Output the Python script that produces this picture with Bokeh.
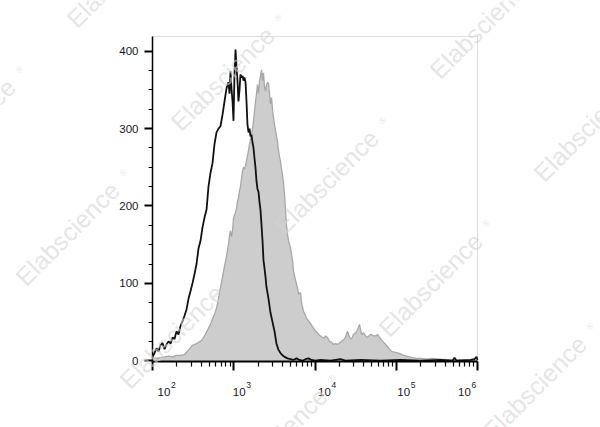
import math
from bokeh.plotting import figure
from bokeh.models import Range1d, SingleIntervalTicker, FixedTicker, Label, BoxAnnotation
from bokeh.embed import file_html
from bokeh.resources import INLINE

# ---- data (log10 of fluorescence intensity, event counts) ----
black_log10 = [2.000, 2.025, 2.049, 2.074, 2.098, 2.123, 2.148, 2.172, 2.197, 2.222,
               2.246, 2.271, 2.295, 2.320, 2.345, 2.369, 2.394, 2.418, 2.443, 2.468,
               2.492, 2.517, 2.542, 2.566, 2.591, 2.615, 2.640, 2.665, 2.689, 2.714,
               2.738, 2.763, 2.788, 2.812, 2.837, 2.862, 2.886, 2.911, 2.935, 2.948,
               2.960, 2.972, 2.985, 2.997, 3.009, 3.022, 3.034, 3.046, 3.058, 3.071,
               3.083, 3.095, 3.108, 3.120, 3.132, 3.145, 3.157, 3.169, 3.182, 3.194,
               3.206, 3.218, 3.231, 3.243, 3.255, 3.268, 3.280, 3.292, 3.305, 3.317,
               3.329, 3.342, 3.354, 3.366, 3.378, 3.391, 3.403, 3.415, 3.428, 3.452,
               3.477, 3.502, 3.526, 3.551, 3.575, 3.600, 3.625, 3.662, 3.698, 3.735,
               3.772, 3.809, 3.846, 3.883, 3.920, 3.957, 4.006, 4.068, 4.191, 4.314,
               4.375, 4.560, 4.806, 5.052, 5.298, 5.545, 5.692, 5.717, 5.742, 5.914,
               5.963, 5.988, 6.000]
black_count = [5, 10, 16, 12, 20, 23, 15, 21, 25, 22,
               30, 28, 38, 34, 45, 51, 58, 66, 80, 90,
               100, 112, 125, 145, 155, 172, 185, 195, 225, 243,
               255, 280, 295, 300, 303, 318, 335, 352, 360, 345,
               374, 352, 335, 310, 370, 402, 380, 362, 335, 350,
               370, 366, 368, 362, 366, 360, 335, 305, 295, 300,
               290, 292, 282, 275, 262, 249, 232, 222, 218, 205,
               195, 175, 155, 130, 120, 108, 95, 88, 80, 62,
               50, 38, 22, 14, 10, 7, 5, 3, 2, 1,
               3, 1, 0, 2, 3, 1, 0, 1, 0, 2,
               0, 1, 0, 1, 0, 1, 0, 4, 0, 1,
               2, 5, 1]

gray_log10 = [2.000, 2.049, 2.098, 2.148, 2.197, 2.246, 2.295, 2.345, 2.394, 2.418,
              2.443, 2.468, 2.492, 2.517, 2.542, 2.566, 2.591, 2.615, 2.640, 2.665,
              2.689, 2.714, 2.738, 2.763, 2.788, 2.812, 2.837, 2.862, 2.886, 2.911,
              2.935, 2.948, 2.960, 2.972, 2.985, 2.997, 3.009, 3.022, 3.034, 3.046,
              3.058, 3.071, 3.083, 3.095, 3.108, 3.120, 3.132, 3.145, 3.157, 3.169,
              3.182, 3.194, 3.206, 3.218, 3.231, 3.243, 3.255, 3.268, 3.280, 3.292,
              3.305, 3.317, 3.329, 3.342, 3.354, 3.366, 3.378, 3.391, 3.403, 3.415,
              3.428, 3.440, 3.452, 3.465, 3.477, 3.489, 3.502, 3.514, 3.526, 3.538,
              3.551, 3.563, 3.575, 3.588, 3.600, 3.612, 3.625, 3.637, 3.649, 3.662,
              3.674, 3.698, 3.723, 3.735, 3.760, 3.785, 3.797, 3.822, 3.834, 3.858,
              3.883, 3.908, 3.932, 3.957, 3.982, 4.006, 4.031, 4.055, 4.080, 4.105,
              4.129, 4.154, 4.178, 4.203, 4.228, 4.252, 4.277, 4.302, 4.326, 4.351,
              4.375, 4.400, 4.425, 4.449, 4.474, 4.498, 4.523, 4.548, 4.572, 4.597,
              4.622, 4.646, 4.671, 4.695, 4.720, 4.745, 4.769, 4.794, 4.818, 4.843,
              4.868, 4.892, 4.917, 4.942, 4.978, 5.015, 5.052, 5.089, 5.126, 5.163,
              5.200, 5.249, 5.298, 5.372, 5.446, 5.545, 5.668, 5.791, 5.914, 6.000]
gray_count = [4, 3, 4, 5, 6, 5, 7, 7, 8, 11,
              14, 17, 20, 21, 22, 24, 25, 28, 32, 37,
              42, 47, 54, 60, 68, 80, 95, 108, 122, 135,
              150, 162, 168, 160, 168, 184, 188, 192, 197, 206,
              210, 220, 225, 235, 245, 250, 248, 252, 258, 265,
              272, 280, 285, 292, 300, 310, 322, 335, 345, 357,
              345, 362, 368, 376, 362, 372, 355, 348, 356, 360,
              358, 345, 332, 340, 325, 314, 305, 298, 290, 284,
              272, 264, 258, 248, 240, 230, 215, 195, 175, 163,
              155, 146, 130, 116, 104, 94, 86, 88, 75, 64,
              58, 53, 50, 46, 42, 38, 36, 33, 31, 29,
              32, 30, 25, 24, 21, 22, 21, 23, 25, 27,
              30, 38, 30, 28, 34, 36, 40, 47, 34, 36,
              32, 30, 33, 34, 32, 32, 34, 30, 27, 24,
              21, 18, 15, 12, 11, 10, 9, 7, 6, 5,
              4, 3, 3, 2, 3, 2, 1, 1, 0, 0]

y_ticks = [0, 100, 200, 300, 400]
x_decades = [2, 3, 4, 5, 6]
x_tick_base = "10"
x_tick_exponents = ["2", "3", "4", "5", "6"]
watermark_text = "Elabscience"
watermark_mark = "\u00ae"

black_x = [10 ** e for e in black_log10]
gray_x = [10 ** e for e in gray_log10]

# ---- layout: the frame covers the whole canvas, the plot box sits inside it ----
W, H = 600, 427
BOX_L, BOX_R, BOX_T, BOX_B = 152, 477, 36, 361      # pixel edges of the plot box
X_LO, X_HI = 100, 1e6
Y_LO, Y_HI = -1, 419
dec_px = (BOX_R - BOX_L) / (math.log10(X_HI) - math.log10(X_LO))
k = (BOX_B - BOX_T) / (Y_HI - Y_LO)
x_range = Range1d(10 ** (math.log10(X_LO) - BOX_L / dec_px),
                  10 ** (math.log10(X_HI) + (W - BOX_R) / dec_px))
y_range = Range1d(Y_LO - (H - BOX_B) / k, Y_HI + BOX_T / k)

p = figure(width=W, height=H, x_axis_type="log", x_range=x_range, y_range=y_range,
           output_backend="svg", toolbar_location=None, min_border=0)
p.grid.visible = False
p.outline_line_color = None
p.background_fill_color = "white"
p.border_fill_color = "white"

# plot box border (top & right visible in grey)
p.add_layout(BoxAnnotation(left=X_LO, right=X_HI, bottom=Y_LO, top=Y_HI,
                           fill_alpha=0, line_color="#8f8f8f", line_width=1,
                           level="underlay"))

# gray filled histogram
p.varea(x=gray_x, y1=0, y2=gray_count, fill_color="#cdcdcd")
p.line(gray_x, gray_count, line_color="#a8a8a8", line_width=1.3)
# black histogram
p.line(black_x, black_count, line_color="#111111", line_width=1.8)

# y axis
yax = p.yaxis[0]
yax.fixed_location = X_LO
yax.bounds = (Y_LO, Y_HI)
yax.ticker = SingleIntervalTicker(interval=100, num_minor_ticks=4)
yax.axis_line_color = "black"
yax.axis_line_width = 1.5
yax.major_tick_in = 0
yax.major_tick_out = 8
yax.major_tick_line_width = 2
yax.major_tick_line_color = "black"
yax.minor_tick_in = 0
yax.minor_tick_out = 4
yax.minor_tick_line_width = 1
yax.minor_tick_line_color = "black"
yax.major_label_text_font = "Liberation Sans"
yax.major_label_text_font_size = "11.5px"
yax.major_label_text_color = "#1a1a1a"
yax.major_label_standoff = 6

# x axis (ticks; labels placed as text below)
major = [10 ** d for d in x_decades]
minor = [m * 10 ** d for d in x_decades[:-1] for m in range(2, 10)]
xax = p.xaxis[0]
xax.fixed_location = Y_LO
xax.bounds = (X_LO, X_HI)
xax.ticker = FixedTicker(ticks=major, minor_ticks=minor)
xax.major_label_overrides = {v: "" for v in major}
xax.axis_line_color = "black"
xax.axis_line_width = 2
xax.major_tick_in = 0
xax.major_tick_out = 9
xax.major_tick_line_width = 2
xax.major_tick_line_color = "black"
xax.minor_tick_in = 0
xax.minor_tick_out = 5
xax.minor_tick_line_width = 1.2
xax.minor_tick_line_color = "black"

# x tick labels "10" with a raised exponent
label_offsets = [5, -1, 3, 1, -19.5]
for d, ex, off in zip(x_decades, x_tick_exponents, label_offsets):
    p.add_layout(Label(x=10 ** d, x_units="data", y=H - 391, y_units="screen",
                       text=x_tick_base, x_offset=off, text_align="left",
                       text_baseline="alphabetic", text_font="Liberation Sans",
                       text_font_size="11.5px", text_color="#1a1a1a"))
    p.add_layout(Label(x=10 ** d, x_units="data", y=H - 384, y_units="screen",
                       text=ex, x_offset=off + 13.5, text_align="left",
                       text_baseline="alphabetic", text_font="Liberation Sans",
                       text_font_size="8.5px", text_color="#1a1a1a"))

# watermarks (canvas pixel positions, y measured from the bottom)
base = (222, 78)
va = (104, 103)
vb = (-155, 155)
for i in range(-2, 5):
    for j in range(-2, 3):
        cx = base[0] + i * va[0] + j * vb[0]
        cy = base[1] + i * va[1] + j * vb[1]
        if cx - 60 > W or cy - 60 > H or cx + 60 < 0 or cy + 60 < 0:
            continue
        p.add_layout(Label(x=cx, y=H - cy, x_units="screen", y_units="screen",
                           text=watermark_text, angle=math.pi / 4,
                           text_align="center", text_baseline="middle",
                           text_font="Liberation Sans", text_font_size="25px",
                           text_color="#d4d4d4", text_alpha=0.6))
        rx, ry = cx + 56, cy - 61
        p.add_layout(Label(x=rx, y=H - ry, x_units="screen", y_units="screen",
                           text=watermark_mark, angle=math.pi / 4,
                           text_align="center", text_baseline="middle",
                           text_font="Liberation Sans", text_font_size="9px",
                           text_color="#d4d4d4", text_alpha=0.6))

open("out.html", "w").write(file_html(p, INLINE))
